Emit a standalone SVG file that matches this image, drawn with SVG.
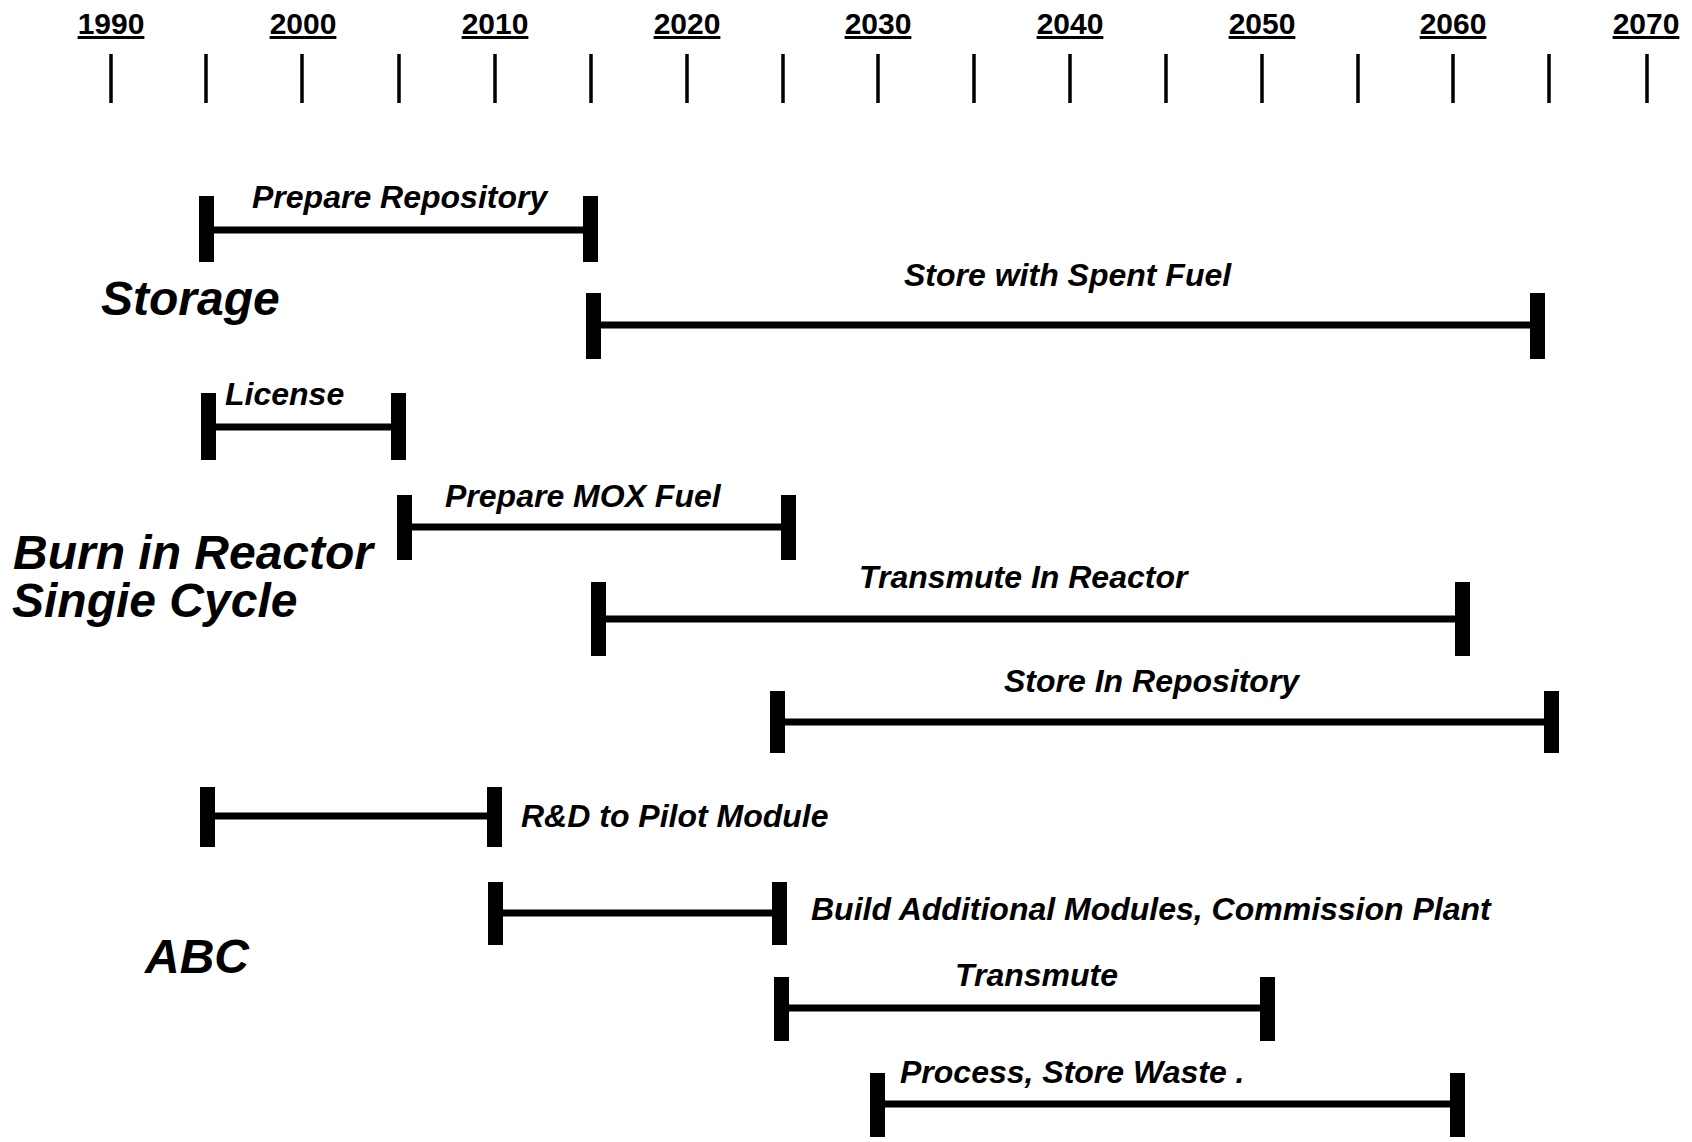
<svg xmlns="http://www.w3.org/2000/svg" width="1692" height="1142" viewBox="0 0 1692 1142">
<style>
.yr{font-family:"Liberation Sans",Arial,sans-serif;font-weight:bold;font-size:30px;text-anchor:middle;text-decoration:underline;fill:#000}
.tick{stroke:#000;stroke-width:3.5}
.bar{stroke:#000;stroke-width:7}
.cap{fill:#000}
.lbl{font-family:"Liberation Sans",Arial,sans-serif;font-weight:bold;font-style:italic;font-size:32px;fill:#000}
.big{font-family:"Liberation Sans",Arial,sans-serif;font-weight:bold;font-style:italic;font-size:48px;fill:#000}
</style>
<rect width="1692" height="1142" fill="#fff"/>
<g id="axis">
<text class="yr" x="111" y="34">1990</text>
<text class="yr" x="303" y="34">2000</text>
<text class="yr" x="495" y="34">2010</text>
<text class="yr" x="687" y="34">2020</text>
<text class="yr" x="878" y="34">2030</text>
<text class="yr" x="1070" y="34">2040</text>
<text class="yr" x="1262" y="34">2050</text>
<text class="yr" x="1453" y="34">2060</text>
<text class="yr" x="1646" y="34">2070</text>
<g class="tick">
<line x1="111" y1="54" x2="111" y2="103"/>
<line x1="206" y1="54" x2="206" y2="103"/>
<line x1="302" y1="54" x2="302" y2="103"/>
<line x1="399" y1="54" x2="399" y2="103"/>
<line x1="495" y1="54" x2="495" y2="103"/>
<line x1="591" y1="54" x2="591" y2="103"/>
<line x1="687" y1="54" x2="687" y2="103"/>
<line x1="783" y1="54" x2="783" y2="103"/>
<line x1="878" y1="54" x2="878" y2="103"/>
<line x1="974" y1="54" x2="974" y2="103"/>
<line x1="1070" y1="54" x2="1070" y2="103"/>
<line x1="1166" y1="54" x2="1166" y2="103"/>
<line x1="1262" y1="54" x2="1262" y2="103"/>
<line x1="1358" y1="54" x2="1358" y2="103"/>
<line x1="1453" y1="54" x2="1453" y2="103"/>
<line x1="1549" y1="54" x2="1549" y2="103"/>
<line x1="1647" y1="54" x2="1647" y2="103"/>
</g>
</g>
<g id="categories">
<text class="big" x="101" y="315">Storage</text>
<text class="big" x="13" y="569">Burn in Reactor</text>
<text class="big" x="12" y="617">Singie Cycle</text>
<text class="big" x="145" y="973" font-size="47">ABC</text>
</g>
<g id="connectors"></g>
<g id="bar-prepare-repository">
<line class="bar" x1="206" y1="230" x2="590" y2="230"/>
<rect class="cap" x="199" y="196" width="15" height="66"/>
<rect class="cap" x="583" y="196" width="15" height="66"/>
<text class="lbl" x="252" y="208">Prepare Repository</text>
</g>
<g id="bar-store-spent-fuel">
<line class="bar" x1="593" y1="325" x2="1538" y2="325"/>
<rect class="cap" x="586" y="293" width="15" height="66"/>
<rect class="cap" x="1530" y="293" width="15" height="66"/>
<text class="lbl" x="904" y="286">Store with Spent Fuel</text>
</g>
<g id="bar-license">
<line class="bar" x1="208" y1="427" x2="398" y2="427"/>
<rect class="cap" x="201" y="393" width="15" height="67"/>
<rect class="cap" x="391" y="393" width="15" height="67"/>
<text class="lbl" x="225" y="405">License</text>
</g>
<g id="bar-prepare-mox">
<line class="bar" x1="404" y1="527" x2="788" y2="527"/>
<rect class="cap" x="397" y="495" width="15" height="65"/>
<rect class="cap" x="781" y="495" width="15" height="65"/>
<text class="lbl" x="445" y="507">Prepare MOX Fuel</text>
</g>
<g id="bar-transmute-reactor">
<line class="bar" x1="598" y1="619" x2="1462" y2="619"/>
<rect class="cap" x="591" y="582" width="15" height="74"/>
<rect class="cap" x="1455" y="582" width="15" height="74"/>
<text class="lbl" x="859" y="588">Transmute In Reactor</text>
</g>
<g id="bar-store-repository">
<line class="bar" x1="777" y1="722" x2="1551" y2="722"/>
<rect class="cap" x="770" y="691" width="15" height="62"/>
<rect class="cap" x="1544" y="691" width="15" height="62"/>
<text class="lbl" x="1004" y="692">Store In Repository</text>
</g>
<g id="bar-rd-pilot">
<line class="bar" x1="207" y1="816" x2="494" y2="816"/>
<rect class="cap" x="200" y="787" width="15" height="60"/>
<rect class="cap" x="487" y="787" width="15" height="60"/>
<text class="lbl" x="521" y="827">R&amp;D to Pilot Module</text>
</g>
<g id="bar-build-modules">
<line class="bar" x1="495" y1="913" x2="779" y2="913"/>
<rect class="cap" x="488" y="882" width="15" height="63"/>
<rect class="cap" x="772" y="882" width="15" height="63"/>
<text class="lbl" x="811" y="920">Build Additional Modules, Commission Plant</text>
</g>
<g id="bar-transmute">
<line class="bar" x1="781" y1="1008" x2="1267" y2="1008"/>
<rect class="cap" x="774" y="977" width="15" height="64"/>
<rect class="cap" x="1260" y="977" width="15" height="64"/>
<text class="lbl" x="955" y="986">Transmute</text>
</g>
<g id="bar-process-store">
<line class="bar" x1="877" y1="1104" x2="1457" y2="1104"/>
<rect class="cap" x="870" y="1073" width="15" height="64"/>
<rect class="cap" x="1450" y="1073" width="15" height="64"/>
<text class="lbl" x="900" y="1083">Process, Store Waste .</text>
</g>
</svg>
